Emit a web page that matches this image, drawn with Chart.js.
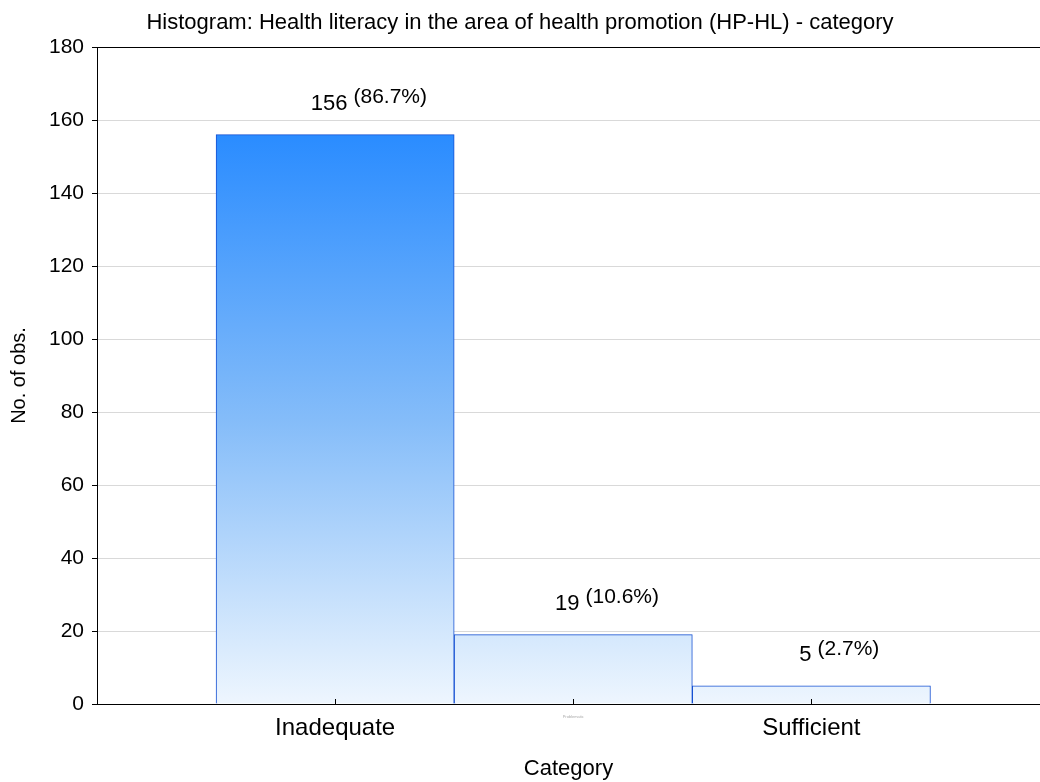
<!DOCTYPE html>
<html>
<head>
<meta charset="utf-8">
<script src="https://cdn.jsdelivr.net/npm/chart.js@4"></script>
<style>
  html, body { margin: 0; padding: 0; background: #fff; }
  #wrap { width: 1040px; height: 782px; position: relative; }
</style>
</head>
<body>
<div id="wrap"><canvas id="grafica"></canvas></div>
<script>
// datos del histograma
const categorias = ['Inadequate', 'Problematic', 'Sufficient'];
const observaciones = [156, 19, 5];
const porcentajes = ['86.7%', '10.6%', '2.7%'];
const ticksY = [0, 20, 40, 60, 80, 100, 120, 140, 160, 180];

const FUENTE = '"Liberation Sans", Arial, sans-serif';

// degradado azul -> casi blanco, ligado a la escala Y (no a cada barra)
function degradado(context) {
  const chart = context.chart;
  const { ctx, chartArea, scales } = chart;
  if (!chartArea) return '#2a8cff';
  const yTop = scales.y.getPixelForValue(Math.max(...observaciones));
  const yBase = scales.y.getPixelForValue(0);
  const g = ctx.createLinearGradient(0, yTop, 0, yBase);
  g.addColorStop(0, '#2a8cff');
  g.addColorStop(0.5, '#84bcf9');
  g.addColorStop(1, '#eef6fe');
  return g;
}

// etiquetas "N (pct)" encima de cada barra
const etiquetasBarras = {
  id: 'etiquetasBarras',
  afterDatasetsDraw(chart) {
    const { ctx } = chart;
    const meta = chart.getDatasetMeta(0);
    ctx.save();
    ctx.fillStyle = '#000';
    ctx.textBaseline = 'middle';
    meta.data.forEach((barra, i) => {
      const texto = String(observaciones[i]);
      ctx.font = '22px ' + FUENTE;
      const ancho = ctx.measureText(texto).width;
      const y = barra.y - 31;
      ctx.textAlign = 'center';
      ctx.fillText(texto, barra.x - 6, y);
      ctx.textAlign = 'left';
      ctx.font = '21px ' + FUENTE;
      ctx.fillText('(' + porcentajes[i] + ')', barra.x - 6 + ancho / 2 + 6, y - 6);
    });
    ctx.restore();
  }
};

// marcas del eje X hacia dentro
const marcasX = {
  id: 'marcasX',
  afterDraw(chart) {
    const { ctx, scales } = chart;
    const yBase = scales.y.getPixelForValue(0);
    ctx.save();
    ctx.strokeStyle = '#000';
    ctx.lineWidth = 1;
    categorias.forEach((c, i) => {
      const x = Math.round(scales.x.getPixelForValue(i + 1)) + 0.5;
      ctx.beginPath();
      ctx.moveTo(x, yBase);
      ctx.lineTo(x, yBase - 5);
      ctx.stroke();
    });
    ctx.restore();
  }
};

new Chart(document.getElementById('grafica'), {
  type: 'bar',
  data: {
    datasets: [{
      data: observaciones.map((v, i) => ({ x: i + 1, y: v })),
      backgroundColor: degradado,
      borderColor: '#1550d2',
      borderWidth: 1,
      barPercentage: 1,
      categoryPercentage: 1,
    }],
  },
  options: {
    responsive: true,
    maintainAspectRatio: false,
    animation: false,
    layout: { padding: 0 },
    plugins: {
      legend: { display: false },
      tooltip: { enabled: false },
      title: {
        display: true,
        text: 'Histogram: Health literacy in the area of health promotion (HP-HL) - category',
        color: '#000',
        font: { family: FUENTE, size: 22, weight: 'normal' },
        padding: { top: 10, bottom: 10.6 },
      },
    },
    scales: {
      x: {
        type: 'linear',
        offset: false,
        min: 0,
        max: 3.96,
        afterBuildTicks: (s) => { s.ticks = categorias.map((c, i) => ({ value: i + 1 })); },
        afterFit: (s) => { s.height = 78; },
        grid: { display: false, drawTicks: false },
        border: { color: '#000', width: 1 },
        ticks: {
          padding: 10,
          autoSkip: false,
          maxRotation: 0,
          color: (c) => c.index === 1 ? '#aaa' : '#000',
          font: (c) => ({ family: FUENTE, size: c.index === 1 ? 4 : 24 }),
          callback: (v) => categorias[v - 1] ?? '',
        },
        title: {
          display: true,
          text: 'Category',
          color: '#000',
          font: { family: FUENTE, size: 22 },
          padding: { top: 0, bottom: 0 },
        },
      },
      y: {
        min: 0,
        max: 180,
        afterBuildTicks: (s) => { s.ticks = ticksY.map(v => ({ value: v })); },
        afterFit: (s) => { s.width = 97; },
        grid: {
          color: (c) => c.tick && c.tick.value === 180 ? '#000' : '#d9d9d9',
          tickColor: '#000',
          tickLength: 5,
          lineWidth: 1,
        },
        border: { color: '#000', width: 1 },
        ticks: {
          padding: 8,
          color: '#000',
          font: { family: FUENTE, size: 21 },
        },
        title: {
          display: true,
          text: 'No. of obs.',
          color: '#000',
          font: { family: FUENTE, size: 20 },
          padding: { top: 7, bottom: 0 },
        },
      },
    },
  },
  plugins: [etiquetasBarras, marcasX],
});
</script>
</body>
</html>
